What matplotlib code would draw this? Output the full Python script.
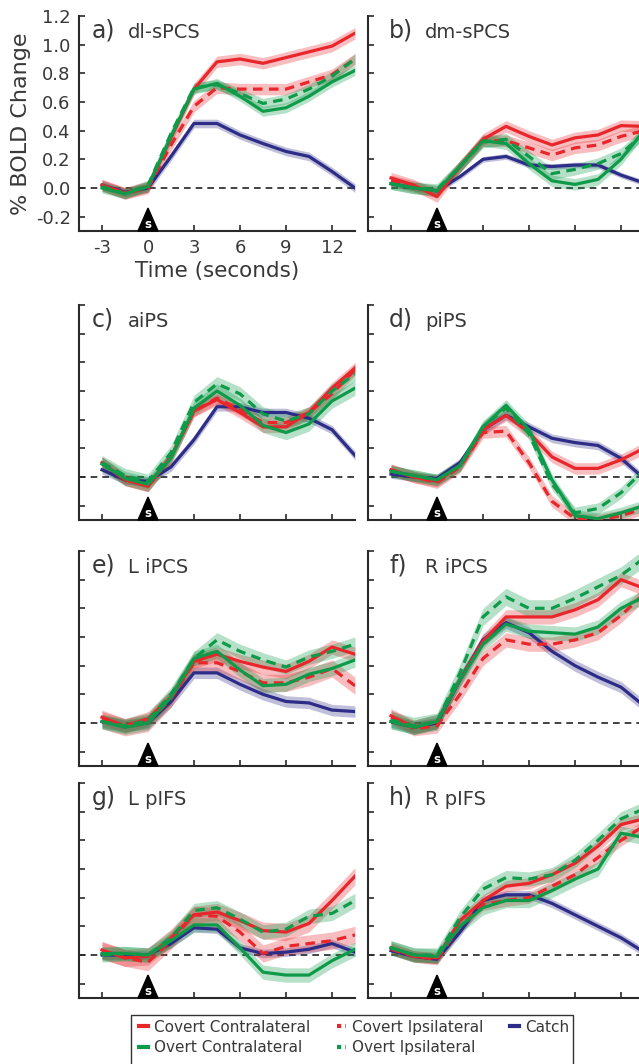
import matplotlib
matplotlib.use("Agg")
import matplotlib.pyplot as plt
from matplotlib.lines import Line2D
from matplotlib.patches import Polygon, Rectangle
import numpy as np

# ---------------- data ----------------
time = [-3, -1.5, 0, 1.5, 3, 4.5, 6, 7.5, 9, 10.5, 12, 13.5]
conditions = ["Covert Contralateral", "Covert Ipsilateral", "Catch",
              "Overt Contralateral", "Overt Ipsilateral"]

dl_sPCS = {
    "Covert Contralateral": [0.02, -0.035, 0.01, 0.35, 0.69, 0.88, 0.90, 0.87, 0.91, 0.95, 0.99, 1.08],
    "Covert Ipsilateral":   [0.02, -0.04, 0.00, 0.30, 0.57, 0.70, 0.69, 0.69, 0.69, 0.74, 0.79, 0.90],
    "Catch":                [0.02, -0.03, 0.00, 0.22, 0.45, 0.45, 0.37, 0.31, 0.255, 0.22, 0.115, 0.00],
    "Overt Contralateral":  [0.00, -0.04, 0.01, 0.36, 0.69, 0.73, 0.64, 0.535, 0.56, 0.64, 0.74, 0.82],
    "Overt Ipsilateral":    [0.01, -0.04, 0.02, 0.38, 0.70, 0.72, 0.66, 0.59, 0.62, 0.69, 0.78, 0.90],
}
dm_sPCS = {
    "Covert Contralateral": [0.07, 0.02, -0.06, 0.15, 0.34, 0.43, 0.36, 0.30, 0.35, 0.37, 0.435, 0.43],
    "Covert Ipsilateral":   [0.05, 0.01, -0.03, 0.15, 0.33, 0.33, 0.28, 0.23, 0.28, 0.30, 0.36, 0.40],
    "Catch":                [0.03, 0.00, -0.02, 0.08, 0.20, 0.22, 0.16, 0.15, 0.16, 0.16, 0.09, 0.035],
    "Overt Contralateral":  [0.03, 0.00, -0.02, 0.15, 0.33, 0.31, 0.17, 0.05, 0.025, 0.06, 0.20, 0.40],
    "Overt Ipsilateral":    [0.03, 0.00, -0.01, 0.15, 0.32, 0.34, 0.22, 0.10, 0.13, 0.17, 0.24, 0.38],
}
aiPS = {
    "Covert Contralateral": [0.10, -0.02, -0.065, 0.14, 0.46, 0.54, 0.45, 0.35, 0.35, 0.45, 0.62, 0.76],
    "Covert Ipsilateral":   [0.10, -0.02, -0.06, 0.14, 0.46, 0.55, 0.47, 0.38, 0.38, 0.45, 0.58, 0.75],
    "Catch":                [0.05, -0.02, -0.03, 0.07, 0.26, 0.49, 0.49, 0.45, 0.45, 0.41, 0.33, 0.15],
    "Overt Contralateral":  [0.09, -0.01, -0.05, 0.13, 0.48, 0.60, 0.50, 0.36, 0.31, 0.37, 0.53, 0.62],
    "Overt Ipsilateral":    [0.10, 0.01, -0.03, 0.17, 0.52, 0.65, 0.58, 0.44, 0.39, 0.44, 0.60, 0.72],
}
piPS = {
    "Covert Contralateral": [0.05, 0.00, -0.03, 0.08, 0.33, 0.43, 0.31, 0.14, 0.06, 0.06, 0.12, 0.20],
    "Covert Ipsilateral":   [0.05, 0.00, -0.04, 0.07, 0.31, 0.32, 0.10, -0.17, -0.29, -0.30, -0.27, -0.22],
    "Catch":                [0.02, 0.00, -0.01, 0.10, 0.33, 0.43, 0.35, 0.27, 0.24, 0.22, 0.13, -0.01],
    "Overt Contralateral":  [0.04, 0.01, -0.02, 0.08, 0.35, 0.50, 0.33, -0.02, -0.27, -0.29, -0.25, -0.20],
    "Overt Ipsilateral":    [0.04, 0.01, -0.02, 0.08, 0.35, 0.48, 0.30, -0.05, -0.25, -0.22, -0.11, 0.05],
}
L_iPCS = {
    "Covert Contralateral": [0.04, -0.02, 0.03, 0.18, 0.43, 0.48, 0.43, 0.39, 0.36, 0.43, 0.53, 0.48],
    "Covert Ipsilateral":   [0.02, -0.03, 0.00, 0.17, 0.42, 0.42, 0.36, 0.28, 0.28, 0.32, 0.38, 0.26],
    "Catch":                [0.01, -0.02, 0.00, 0.15, 0.35, 0.35, 0.27, 0.20, 0.15, 0.14, 0.09, 0.08],
    "Overt Contralateral":  [0.01, -0.03, 0.00, 0.18, 0.45, 0.50, 0.37, 0.26, 0.27, 0.34, 0.38, 0.44],
    "Overt Ipsilateral":    [0.01, -0.02, 0.02, 0.20, 0.45, 0.58, 0.50, 0.44, 0.39, 0.46, 0.50, 0.55],
}
R_iPCS = {
    "Covert Contralateral": [0.05, -0.03, 0.01, 0.30, 0.57, 0.74, 0.74, 0.74, 0.79, 0.86, 1.00, 0.94],
    "Covert Ipsilateral":   [0.04, -0.04, -0.02, 0.20, 0.45, 0.58, 0.55, 0.55, 0.58, 0.63, 0.75, 0.90],
    "Catch":                [0.01, -0.03, 0.00, 0.30, 0.58, 0.70, 0.63, 0.50, 0.40, 0.32, 0.25, 0.12],
    "Overt Contralateral":  [0.01, -0.03, 0.01, 0.30, 0.55, 0.69, 0.64, 0.63, 0.62, 0.67, 0.80, 0.88],
    "Overt Ipsilateral":    [0.02, -0.02, 0.01, 0.35, 0.74, 0.88, 0.80, 0.80, 0.87, 0.95, 1.03, 1.15],
}
L_pIFS = {
    "Covert Contralateral": [0.035, -0.02, -0.01, 0.12, 0.28, 0.30, 0.24, 0.17, 0.16, 0.22, 0.38, 0.55],
    "Covert Ipsilateral":   [0.03, -0.02, -0.05, 0.10, 0.28, 0.27, 0.16, 0.01, 0.06, 0.08, 0.10, 0.14],
    "Catch":                [0.00, 0.00, 0.00, 0.08, 0.19, 0.18, 0.05, 0.01, 0.02, 0.04, 0.08, 0.02],
    "Overt Contralateral":  [0.01, 0.01, 0.00, 0.10, 0.21, 0.21, 0.05, -0.12, -0.14, -0.14, -0.04, 0.04],
    "Overt Ipsilateral":    [0.00, 0.01, 0.00, 0.12, 0.31, 0.33, 0.25, 0.16, 0.18, 0.27, 0.29, 0.38],
}
R_pIFS = {
    "Covert Contralateral": [0.05, -0.01, -0.02, 0.24, 0.38, 0.48, 0.50, 0.56, 0.64, 0.76, 0.91, 0.95],
    "Covert Ipsilateral":   [0.04, -0.01, -0.03, 0.20, 0.35, 0.38, 0.40, 0.48, 0.56, 0.68, 0.80, 0.90],
    "Catch":                [0.03, -0.01, -0.03, 0.16, 0.38, 0.42, 0.42, 0.36, 0.28, 0.20, 0.12, 0.02],
    "Overt Contralateral":  [0.05, 0.00, -0.01, 0.20, 0.33, 0.38, 0.38, 0.45, 0.53, 0.60, 0.85, 0.82],
    "Overt Ipsilateral":    [0.05, 0.00, 0.00, 0.26, 0.46, 0.54, 0.53, 0.56, 0.66, 0.80, 0.95, 1.02],
}

# standard errors (one per condition, order as `conditions`)
sem = {
    "dl-sPCS": [0.04, 0.04, 0.03, 0.035, 0.035],
    "dm-sPCS": [0.04, 0.04, 0.02, 0.04, 0.04],
    "aiPS":    [0.04, 0.04, 0.03, 0.05, 0.05],
    "piPS":    [0.04, 0.04, 0.03, 0.04, 0.04],
    "L iPCS":  [0.05, 0.06, 0.04, 0.05, 0.05],
    "R iPCS":  [0.05, 0.05, 0.04, 0.05, 0.06],
    "L pIFS":  [0.06, 0.06, 0.03, 0.05, 0.05],
    "R pIFS":  [0.04, 0.04, 0.03, 0.05, 0.05],
}

panels = [("a)", "dl-sPCS", dl_sPCS), ("b)", "dm-sPCS", dm_sPCS),
          ("c)", "aiPS", aiPS), ("d)", "piPS", piPS),
          ("e)", "L iPCS", L_iPCS), ("f)", "R iPCS", R_iPCS),
          ("g)", "L pIFS", L_pIFS), ("h)", "R pIFS", R_pIFS)]

xticks = [-3, 0, 3, 6, 9, 12]
xticklabels = ["-3", "0", "3", "6", "9", "12"]
yticks = [-0.2, 0.0, 0.2, 0.4, 0.6, 0.8, 1.0, 1.2]
yticklabels = ["-0.2", "0.0", "0.2", "0.4", "0.6", "0.8", "1.0", "1.2"]
stim_time = 0

# ---------------- styles ----------------
RED = "#e8262c"
GREEN = "#0f9a4a"
NAVY = "#2d2c86"
styles = {
    "Covert Contralateral": dict(color=RED, ls="-"),
    "Covert Ipsilateral":   dict(color=RED, ls=(0, (3, 2))),
    "Catch":                dict(color=NAVY, ls="-"),
    "Overt Contralateral":  dict(color=GREEN, ls="-"),
    "Overt Ipsilateral":    dict(color=GREEN, ls=(0, (3, 2))),
}
draw_order = ["Catch", "Covert Ipsilateral", "Covert Contralateral",
              "Overt Ipsilateral", "Overt Contralateral"]
TXT = "#383838"

plt.rcParams['font.family'] = ['DejaVu Sans']
plt.rcParams['axes.unicode_minus'] = False

W, H = 639, 1064
fig = plt.figure(figsize=(W / 100, H / 100), dpi=100)

col_left = [79, 368]
ax_w = 276
row_tops = [16, 305, 551, 783]
ax_h = 215
title_off = [13, 21]

for i, (lab, name, data) in enumerate(panels):
    r, c = divmod(i, 2)
    left = col_left[c] / W
    bottom = 1 - (row_tops[r] + ax_h) / H
    ax = fig.add_axes([left, bottom, ax_w / W, ax_h / H])
    ax.set_xlim(-4.5, 13.5)
    ax.set_ylim(-0.3, 1.2)

    ax.axhline(0, color="#222222", lw=1.2, ls=(0, (4, 3)), zorder=1)

    t = np.array(time)
    for cond in draw_order:
        y = np.array(data[cond])
        e = sem[name][conditions.index(cond)]
        st = styles[cond]
        ax.fill_between(t, y - e, y + e, color=st["color"], alpha=0.3, lw=0, zorder=2)
    for cond in draw_order:
        y = np.array(data[cond])
        st = styles[cond]
        ax.plot(t, y, color=st["color"], ls=st["ls"], lw=2.3, zorder=3)

    # stimulus marker
    tri_w, tri_h = 0.65, 0.16
    tri = Polygon([[stim_time - tri_w, -0.3], [stim_time + tri_w, -0.3],
                   [stim_time, -0.3 + tri_h]], closed=True, color="black",
                  zorder=6, clip_on=False)
    ax.add_patch(tri)
    ax.text(stim_time, -0.3 + 0.045, "s", color="white", fontsize=8.5,
            fontweight="bold", ha="center", va="center", zorder=7)

    for s in ["top", "right"]:
        ax.spines[s].set_visible(False)
    for s in ["left", "bottom"]:
        ax.spines[s].set_color("#2a2a2a")
        ax.spines[s].set_linewidth(1.5)
    ax.set_xticks(xticks)
    ax.set_yticks(yticks)
    ax.tick_params(direction="in", length=4, width=1.2, color="#2a2a2a",
                   labelsize=13, labelcolor=TXT, pad=6)
    if i == 0:
        ax.set_xticklabels(xticklabels)
        ax.set_yticklabels(yticklabels)
        ax.set_ylabel("% BOLD Change", fontsize=16, color=TXT, labelpad=3)
        ax.set_xlabel("Time (seconds)", fontsize=15.5, color=TXT, labelpad=3)
    else:
        ax.set_xticklabels([])
        ax.set_yticklabels([])

    x0 = title_off[c] / ax_w
    x1 = (title_off[c] + 36) / ax_w
    ax.text(x0, 0.898, lab, transform=ax.transAxes, fontsize=17, color=TXT,
            va="baseline", ha="left")
    ax.text(x1, 0.898, name, transform=ax.transAxes, fontsize=14, color=TXT,
            va="baseline", ha="left")

# legend
handles = []
labels = []
for cond in ["Covert Contralateral", "Overt Contralateral", "Covert Ipsilateral",
             "Overt Ipsilateral", "Catch"]:
    st = styles[cond]
    ls = st["ls"] if st["ls"] == "-" else (0, (1.0, 1.0))
    handles.append(Line2D([0], [0], color=st["color"], ls=ls, lw=3))
    labels.append(cond)
leg = fig.legend(handles, labels, loc="upper left",
                 bbox_to_anchor=(134 / W, 1 - 1015 / H), ncol=3,
                 frameon=False, fontsize=11, handlelength=0.6,
                 handletextpad=0.4, columnspacing=1.75, borderpad=0.3,
                 labelspacing=0.35, borderaxespad=0)
for txt in leg.get_texts():
    txt.set_color(TXT)
# legend box (runs off the bottom edge, as in the reference)
fig.patches.append(Rectangle((131 / W, -0.01), (573 - 131) / W, 0.01 + 1 - 1015 / H,
                             transform=fig.transFigure, fill=False,
                             edgecolor="#333333", lw=1.0))

fig.savefig("out.png", dpi=100)
